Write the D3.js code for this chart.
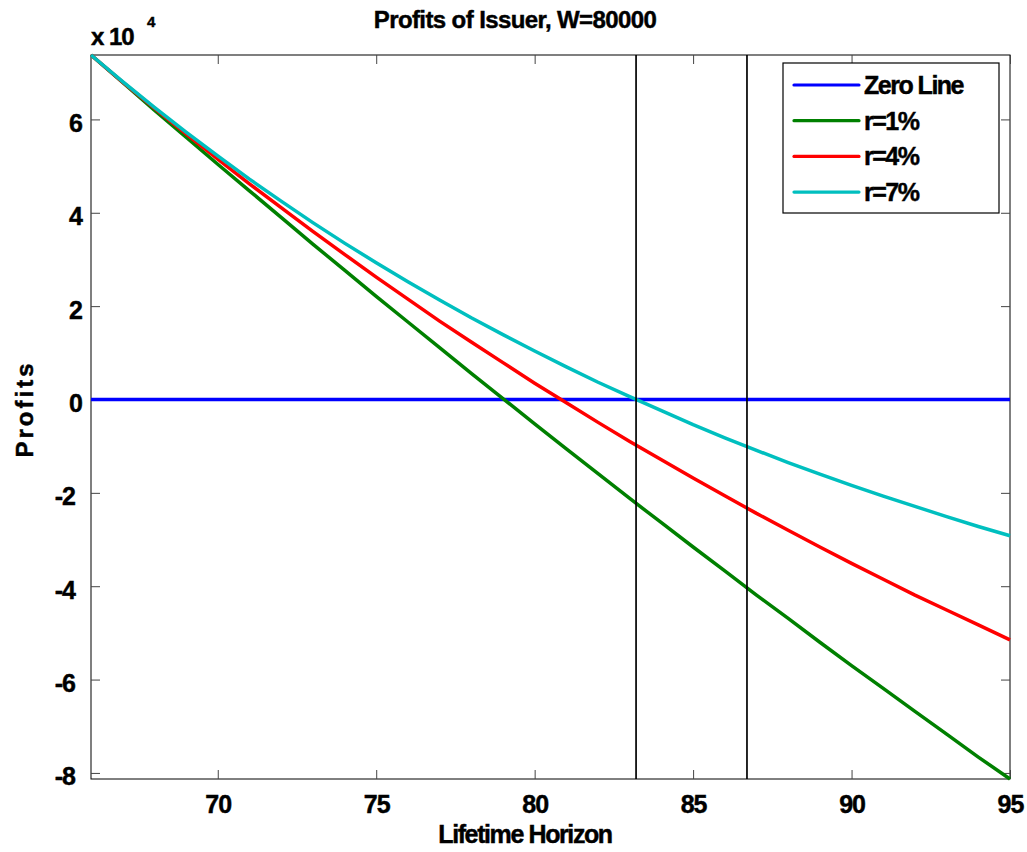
<!DOCTYPE html>
<html>
<head>
<meta charset="utf-8">
<script src="https://cdn.jsdelivr.net/npm/d3@7"></script>
<style>
	body { margin: 0; background: #fff; }
	svg text { font-family: "Liberation Sans", Arial, sans-serif; font-weight: bold; fill: #000; stroke: #000; stroke-width: 0.45px; }
</style>
</head>
<body>
<svg class="profit-chart"></svg>
<script>
// lifetime horizon (years)
let years = [66, 67, 68, 69, 70, 71, 72, 73, 74, 75, 76, 77, 78, 79, 80,
	81, 82, 83, 84, 85, 86, 87, 88, 89, 90, 91, 92, 93, 94, 95];

// profits
let profitsR1 = [73800, 67900, 62000, 56200, 50400, 44700, 39000, 33300, 27700, 22100,
	16600, 11100, 5600, 200, -5200, -10600, -15900, -21200, -26400, -31600,
	-36700, -41900, -46900, -52000, -57000, -61900, -66800, -71700, -76600, -81300];
let profitsR4 = [73800, 68000, 62400, 56900, 51500, 46200, 41100, 36000, 31100, 26200,
	21500, 16800, 12300, 7900, 3500, -700, -4900, -9000, -12900, -16800,
	-20600, -24400, -28000, -31600, -35100, -38500, -41900, -45100, -48300, -51500];
let profitsR7 = [73800, 68100, 62600, 57300, 52200, 47200, 42500, 37900, 33500, 29300,
	25200, 21300, 17500, 13900, 10400, 7000, 3700, 600, -2400, -5400,
	-8200, -10900, -13500, -16000, -18400, -20700, -22900, -25100, -27200, -29200];

let seriesNames = ["Zero Line", "r=1%", "r=4%", "r=7%"];
let seriesColors = ["#0000ff", "#008000", "#ff0000", "#00bfbf"];

// vertical markers
let markerYears = [83.2, 86.7];

let xTickValues = [70, 75, 80, 85, 90, 95];
let yTickValues = [-80000, -60000, -40000, -20000, 0, 20000, 40000, 60000];

let width = 1027;
let height = 852;
let margin = { top: 55, right: 17, bottom: 73, left: 91 };
let plotW = width - margin.left - margin.right;
let plotH = height - margin.top - margin.bottom;

let svg = d3.select(".profit-chart")
	.attr("width", width)
	.attr("height", height);

let g = svg.append("g")
	.attr("transform", "translate(" + margin.left + "," + margin.top + ")");

let allVals = profitsR1.concat(profitsR4, profitsR7);

// scales, tight like matlab
let xScale = d3.scaleLinear()
	.domain(d3.extent(years))
	.range([0, plotW]);

let yScale = d3.scaleLinear()
	.domain(d3.extent(allVals))
	.range([plotH, 0]);

// box
g.append("rect")
	.attr("width", plotW)
	.attr("height", plotH)
	.attr("fill", "#fff")
	.attr("stroke", "#000")
	.attr("stroke-width", 1);

// ticks inside, on all four sides
let tickLen = 9;
let tickFmtY = function(d) { return String(d / 10000); };

let xAxis = d3.axisBottom(xScale)
	.tickValues(xTickValues)
	.tickSize(-tickLen)
	.tickPadding(22)
	.tickFormat(d3.format("d"));

let xAxisG = g.append("g")
	.attr("class", "x-axis")
	.attr("transform", "translate(0," + plotH + ")")
	.call(xAxis);
xAxisG.select(".domain").remove();
xAxisG.selectAll(".tick text")
	.attr("y", 34)
	.attr("dy", null)
	.style("font-size", "25px")
	.style("letter-spacing", "-1px");

g.append("g")
	.attr("class", "x-axis-top")
	.call(d3.axisTop(xScale).tickValues(xTickValues).tickSize(-tickLen).tickFormat(""))
	.select(".domain").remove();

let yAxis = d3.axisLeft(yScale)
	.tickValues(yTickValues)
	.tickSize(-tickLen)
	.tickFormat(tickFmtY);

let yAxisG = g.append("g")
	.attr("class", "y-axis")
	.call(yAxis);
yAxisG.select(".domain").remove();
yAxisG.selectAll(".tick text")
	.attr("x", function(d) { return d < 0 ? -16 : -9; })
	.attr("dy", null)
	.attr("y", 12)
	.style("font-size", "25px")
	.style("letter-spacing", "-1px");

g.append("g")
	.attr("class", "y-axis-right")
	.attr("transform", "translate(" + plotW + ",0)")
	.call(d3.axisRight(yScale).tickValues(yTickValues).tickSize(-tickLen).tickFormat(""))
	.select(".domain").remove();

g.selectAll(".tick line").attr("stroke", "#444");

// exponent label
svg.append("text")
	.attr("x", margin.left)
	.attr("y", 45)
	.style("font-size", "24px")
	.style("letter-spacing", "-1px")
	.text("x 10");
svg.append("text")
	.attr("x", margin.left + 56)
	.attr("y", 27)
	.style("font-size", "15px")
	.text("4");

// lines
let line = d3.line()
	.x(function(d, i) { return xScale(years[i]); })
	.y(function(d) { return yScale(d); });

let zeroVals = years.map(function() { return 0; });
let seriesData = [zeroVals, profitsR1, profitsR4, profitsR7];

g.selectAll(".series")
	.data(seriesData)
	.enter().append("path")
	.attr("class", "series")
	.attr("fill", "none")
	.attr("stroke", function(d, i) { return seriesColors[i]; })
	.attr("stroke-width", 3.5)
	.attr("stroke-linejoin", "round")
	.attr("d", line);

// vertical markers
g.selectAll(".marker")
	.data(markerYears)
	.enter().append("line")
	.attr("class", "marker")
	.attr("x1", function(d) { return xScale(d); })
	.attr("x2", function(d) { return xScale(d); })
	.attr("y1", 0)
	.attr("y2", plotH)
	.attr("stroke", "#000")
	.attr("stroke-width", 1.7);

// legend
let legend = g.append("g")
	.attr("class", "legend")
	.attr("transform", "translate(" + (plotW - 227) + ",8)");

legend.append("rect")
	.attr("width", 216)
	.attr("height", 150)
	.attr("fill", "#fff")
	.attr("stroke", "#000")
	.attr("stroke-width", 1.2);

let rowH = 35.7;
let rows = legend.selectAll(".legend-row")
	.data(seriesNames)
	.enter().append("g")
	.attr("class", "legend-row")
	.attr("transform", function(d, i) { return "translate(0," + (22 + i * rowH) + ")"; });

rows.append("line")
	.attr("x1", 11)
	.attr("x2", 76)
	.attr("stroke", function(d, i) { return seriesColors[i]; })
	.attr("stroke-width", 3.2)
	.attr("stroke-linecap", "round");

rows.append("text")
	.attr("x", 81)
	.attr("y", 9)
	.style("font-size", "25px")
	.style("letter-spacing", "-1.5px")
	.text(function(d) { return d; });

// title and axis labels
svg.append("text")
	.attr("x", 515)
	.attr("y", 28)
	.attr("text-anchor", "middle")
	.style("font-size", "24px")
	.style("letter-spacing", "-0.6px")
	.text("Profits of Issuer, W=80000");

svg.append("text")
	.attr("x", 525)
	.attr("y", 843)
	.attr("text-anchor", "middle")
	.style("font-size", "25px")
	.style("letter-spacing", "-1.4px")
	.text("Lifetime Horizon");

svg.append("text")
	.attr("transform", "translate(33,409) rotate(-90)")
	.attr("text-anchor", "middle")
	.style("font-size", "24px")
	.style("letter-spacing", "3px")
	.text("Profits");
</script>
</body>
</html>
